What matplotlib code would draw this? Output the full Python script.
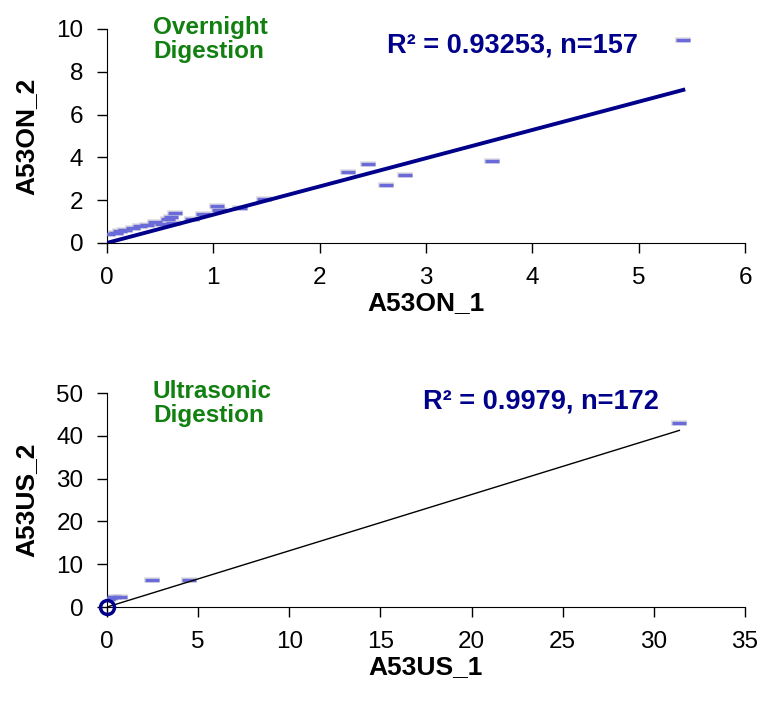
import matplotlib.pyplot as plt
import numpy as np

plt.rcParams['font.family'] = ['Liberation Sans', 'DejaVu Sans']

# overnight digestion replicates
on_x = [5.42, 3.62, 2.80, 2.62, 2.45, 2.27, 1.48, 1.25, 1.03, 1.05, 0.90, 0.80,
        0.64, 0.60, 0.57, 0.62, 0.52, 0.45, 0.38, 0.31, 0.24, 0.17, 0.12, 0.08, 0.01]
on_y = [9.49, 3.83, 3.18, 2.71, 3.69, 3.32, 2.06, 1.64, 1.73, 1.55, 1.36, 1.12,
        1.40, 1.20, 1.10, 0.95, 0.90, 0.98, 0.85, 0.80, 0.70, 0.60, 0.55, 0.47, 0.42]
on_slope = 1.32
on_label = 'R² = 0.93253, n=157'

# ultrasonic digestion replicates
us_x = [31.4, 4.5, 2.47, 0.7, 0.4, 0.16, 0.05]
us_y = [42.9, 6.4, 6.4, 2.4, 2.3, 2.1, 1.8]
us_slope = 1.315
us_label = 'R² = 0.9979, n=172'

fig = plt.figure(figsize=(7.61, 7.02), dpi=100)
ax1 = fig.add_axes([0.1406, 0.654, 0.8384, 0.3047])
ax2 = fig.add_axes([0.1406, 0.1353, 0.8384, 0.3047])

navy = '#00008b'
green = '#118011'
fs = 17.5


def dashes(ax, x, y):
    ax.plot(x, np.array(y), ls='none', marker='_', ms=12, mew=4,
            color='#c8c8d0', alpha=0.6, zorder=2)
    ax.plot(x, y, ls='none', marker='_', ms=10, mew=2.5,
            color='#6a6ad8', zorder=3)


def style(ax, xlim, ylim, xt, yt, xl, yl):
    ax.set_xlim(*xlim)
    ax.set_ylim(*ylim)
    ax.set_xticks(xt)
    ax.set_yticks(yt)
    for s in ['top', 'right']:
        ax.spines[s].set_visible(False)
    ax.tick_params(direction='out', length=7, labelsize=fs, width=1)
    ax.tick_params(axis='x', pad=10)
    ax.tick_params(axis='y', pad=10)
    ax.set_xlabel(xl, fontsize=19, fontweight='bold', labelpad=2)
    ax.set_ylabel(yl, fontsize=19, fontweight='bold', labelpad=13)


dashes(ax1, on_x, on_y)
xx = np.array([0, max(on_x)])
ax1.plot(xx, on_slope * xx, color=navy, lw=2.8, zorder=4)
style(ax1, (0, 6), (0, 10), range(0, 7), range(0, 11, 2), 'A53ON_1', 'A53ON_2')
ax1.text(0.072, 1.06, 'Overnight\nDigestion', transform=ax1.transAxes, color=green,
         fontsize=17.5, fontweight='bold', va='top', linespacing=1.05)
ax1.text(0.439, 0.925, on_label, transform=ax1.transAxes, color=navy,
         fontsize=19.5, fontweight='bold', va='center')

dashes(ax2, us_x, us_y)
xx = np.array([0, max(us_x)])
ax2.plot(xx, us_slope * xx, color='black', lw=1, zorder=4)
ax2.plot([0], [0], ls='none', marker='o', ms=10, mfc='none', mec=navy, mew=2.5,
         zorder=5, clip_on=False)
style(ax2, (0, 35), (0, 50), range(0, 36, 5), range(0, 51, 10), 'A53US_1', 'A53US_2')
ax2.text(0.072, 1.06, 'Ultrasonic\nDigestion', transform=ax2.transAxes, color=green,
         fontsize=17.5, fontweight='bold', va='top', linespacing=1.05)
ax2.text(0.495, 0.963, us_label, transform=ax2.transAxes, color=navy,
         fontsize=19.5, fontweight='bold', va='center')

fig.savefig('out.png', dpi=100)
